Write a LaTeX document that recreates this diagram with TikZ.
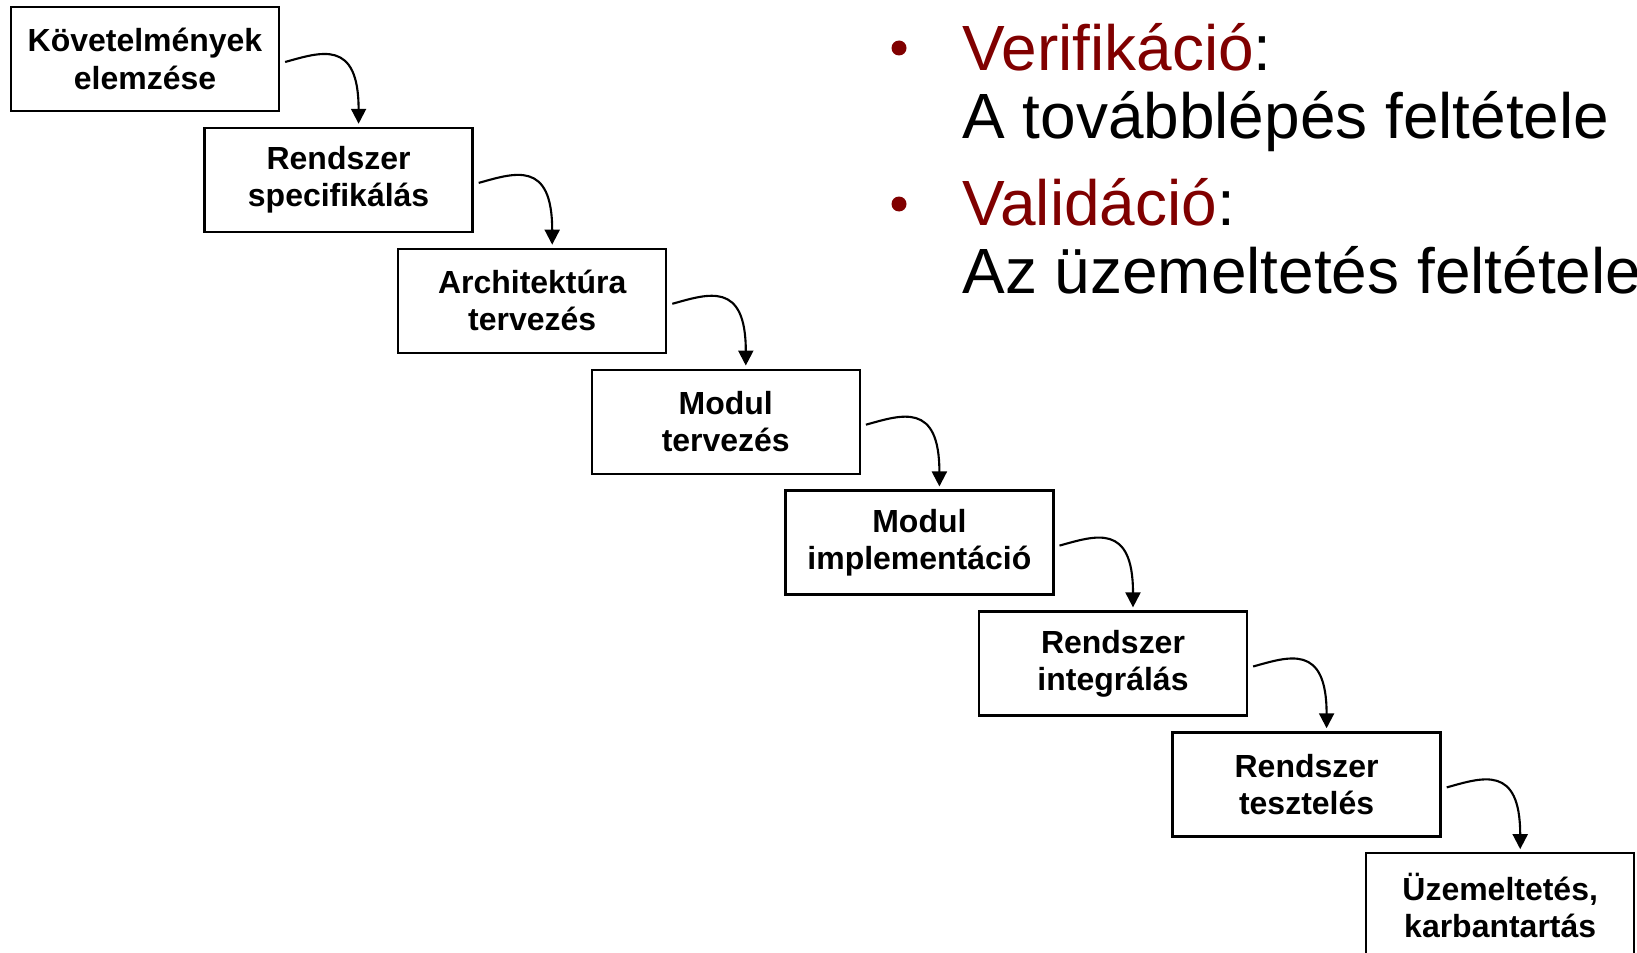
\documentclass[tikz,border=0pt]{standalone}
\usepackage{fontspec}
\setmainfont{Liberation Sans}
\usetikzlibrary{arrows.meta,calc}
\definecolor{vered}{RGB}{128,0,0}

\begin{document}
\begin{tikzpicture}[x=0.02cm,y=-0.02cm]
\tikzstyle{every node}=[font={\fontsize{18.2}{21.2}\selectfont\bfseries}]
\tikzstyle{phase}=[draw, line width=1.3pt, minimum width=5.36cm, minimum height=2.08cm, align=center, inner sep=0pt]
\tikzstyle{flow}=[line width=1.2pt, -{Triangle[length=0.3cm,width=0.3cm]}]
\tikzstyle{bigtext}=[font={\fontsize{36.4}{38.7}\selectfont}, anchor=base west, inner sep=0pt]

	\useasboundingbox (0,0) rectangle (1637,953);

	\foreach \i/\txt in {1/{Követelmények\\elemzése}, 2/{Rendszer\\specifikálás},
		3/{Architektúra\\tervezés}, 4/{Modul\\tervezés}, 5/{Modul\\implementáció},
		6/{Rendszer\\integrálás}, 7/{Rendszer\\tesztelés}, 8/{Üzemeltetés,\\karbantartás}} {
		\node[phase] (b\i) at ({145+193.6*(\i-1)},{59+120.9*(\i-1)}) {\txt};
	}

	\foreach \i in {1,2,...,7} {
		\pgfmathtruncatemacro{\j}{\i+1}
		\draw[flow] ($(b\i.east)+(5,3)$) .. controls +(36,-10) and +(0,-85) .. ($(b\j.north)+(20,-3)$);
	}

	\fill[vered] (899,48) circle (7.5);
	\fill[vered] (899,204) circle (7.5);
	\node[bigtext] (ver) at (962,71) {\textcolor{vered}{Verifikáció}:};
	\node[bigtext] (vertxt) at (962,139) {A továbblépés feltétele};
	\node[bigtext] (val) at (962,225) {\textcolor{vered}{Validáció}:};
	\node[bigtext] (valtxt) at (962,293) {Az üzemeltetés feltétele};
\end{tikzpicture}
\end{document}
